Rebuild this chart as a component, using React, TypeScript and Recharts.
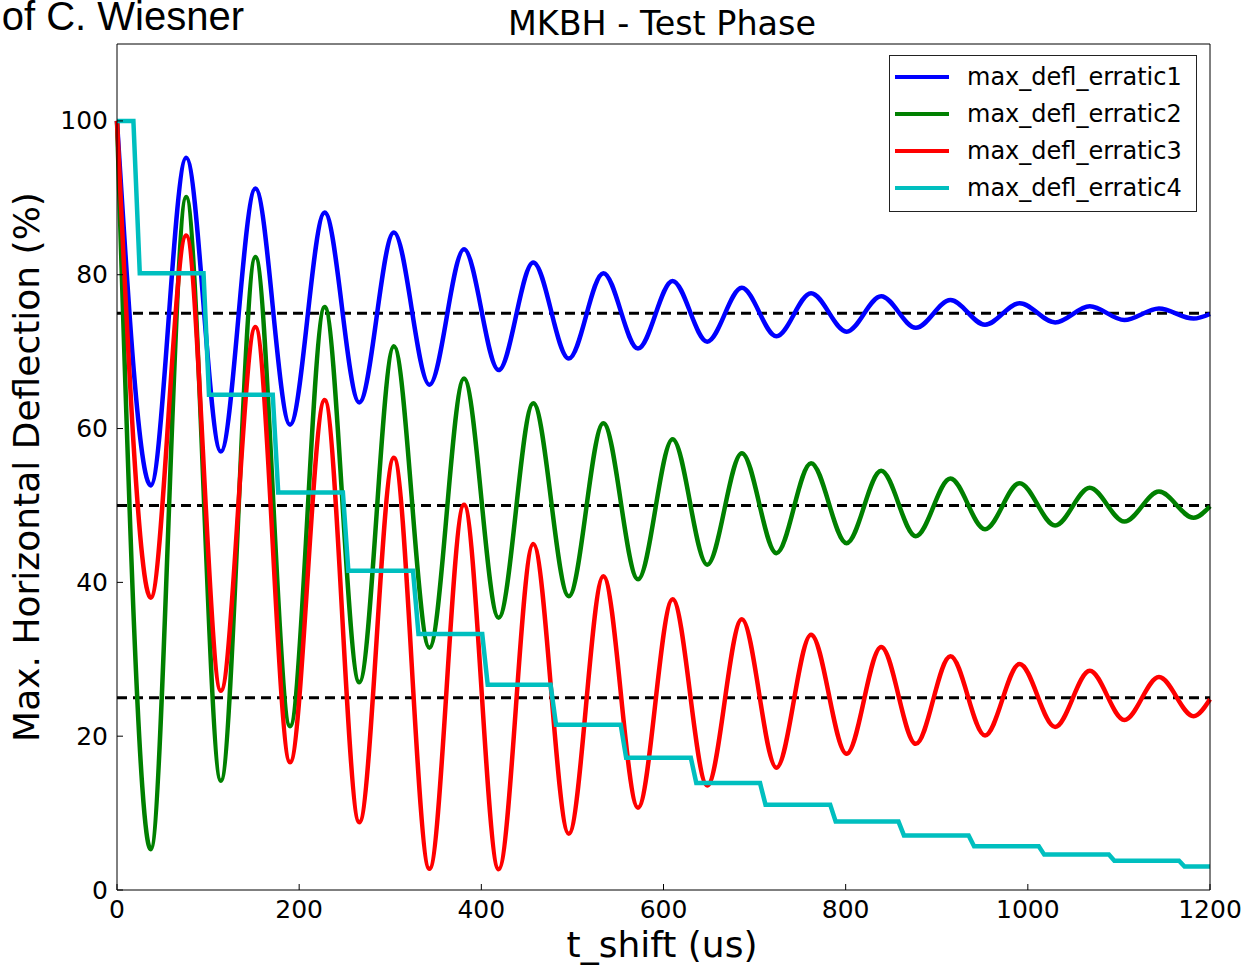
import React from 'react';
import {
  LineChart,
  Line,
  XAxis,
  YAxis,
  ReferenceLine,
} from 'recharts';

// times (us) of the extrema of the three damped curves
const oscTimes = [
  0, 37, 76, 114, 152, 190, 228, 266, 304, 343, 381, 419, 457, 496, 534, 572,
  610, 648, 686, 724, 762, 801, 839, 877, 915, 953, 991, 1030, 1068, 1106, 1144,
  1182, 1200,
];

const erratic1Values = [
  100, 52.6, 95.2, 57.0, 91.2, 60.5, 88.1, 63.4, 85.5, 65.7, 83.3, 67.6, 81.6,
  69.1, 80.2, 70.4, 79.2, 71.3, 78.3, 72.0, 77.6, 72.6, 77.2, 73.1, 76.7, 73.5,
  76.3, 73.8, 75.9, 74.1, 75.6, 74.3, 74.9,
];

const erratic2Values = [
  100, 5.3, 90.1, 14.2, 82.3, 21.3, 75.8, 27.0, 70.7, 31.5, 66.5, 35.4, 63.3,
  38.2, 60.7, 40.4, 58.6, 42.3, 56.8, 43.8, 55.5, 45.1, 54.5, 46.0, 53.5, 46.9,
  52.9, 47.4, 52.3, 47.9, 51.8, 48.4, 49.9,
];

const erratic3Values = [
  100, 38.0, 85.1, 25.9, 73.2, 16.6, 63.7, 8.8, 56.2, 2.75, 50.1, 2.7, 45.0,
  7.3, 40.8, 10.7, 37.8, 13.6, 35.2, 15.9, 33.2, 17.7, 31.6, 19.0, 30.4, 20.1,
  29.4, 21.2, 28.5, 22.1, 27.7, 22.6, 24.8,
];

// staircase of erratic4: corner times and levels
const stepTimes = [
  0, 18, 25, 95, 101, 171, 177, 248, 254, 325, 331, 401, 407, 476, 482, 553,
  559, 630, 636, 706, 712, 783, 789, 858, 864, 935, 941, 1012, 1018, 1089, 1095,
  1166, 1172, 1200,
];
const erratic4Values = [
  100, 100, 80.2, 80.2, 64.4, 64.4, 51.7, 51.7, 41.5, 41.5, 33.3, 33.3, 26.7,
  26.7, 21.5, 21.5, 17.2, 17.2, 13.9, 13.9, 11.1, 11.1, 8.9, 8.9, 7.1, 7.1, 5.7,
  5.7, 4.6, 4.6, 3.8, 3.8, 3.05, 3.05,
];

const refLevels = [75, 50, 25];
const xTicks = [0, 200, 400, 600, 800, 1000, 1200];
const yTicks = [0, 20, 40, 60, 80, 100];

const toRows = (times: number[], values: number[]) =>
  times.map((t, i) => ({ t, v: values[i] }));

const series = [
  { name: 'max_defl_erratic1', color: '#0000ff', data: toRows(oscTimes, erratic1Values), curve: 'monotone' },
  { name: 'max_defl_erratic2', color: '#008000', data: toRows(oscTimes, erratic2Values), curve: 'monotone' },
  { name: 'max_defl_erratic3', color: '#ff0000', data: toRows(oscTimes, erratic3Values), curve: 'monotone' },
  { name: 'max_defl_erratic4', color: '#00bfbf', data: toRows(stepTimes, erratic4Values), curve: 'linear' },
];

const FONT = '"DejaVu Sans", sans-serif';

const BottomTick = (props: any) => {
  const { x, y, payload } = props;
  return (
    <g>
      <line x1={x} x2={x} y1={y} y2={y - 6} stroke="#000" />
      <text x={x} y={y + 28} textAnchor="middle" fontSize={25} fontFamily={FONT} fill="#000">
        {payload.value}
      </text>
    </g>
  );
};

const TopTick = (props: any) => {
  const { x, y } = props;
  return <line x1={x} x2={x} y1={y} y2={y + 6} stroke="#000" />;
};

const LeftTick = (props: any) => {
  const { x, y, payload } = props;
  return (
    <g>
      <line x1={x} x2={x + 6} y1={y} y2={y} stroke="#000" />
      <text x={x - 9} y={y} textAnchor="end" dominantBaseline="central" fontSize={25} fontFamily={FONT} fill="#000">
        {payload.value}
      </text>
    </g>
  );
};

const RightTick = (props: any) => {
  const { x, y } = props;
  return <line x1={x} x2={x - 6} y1={y} y2={y} stroke="#000" />;
};

const LegendBox = () => (
  <div
    style={{
      position: 'absolute',
      left: 889,
      top: 55,
      border: '1px solid #222',
      background: '#fff',
      width: 308,
      height: 157,
      paddingTop: 2,
      boxSizing: 'border-box',
      fontFamily: FONT,
      fontSize: 24,
      color: '#000',
    }}
  >
    {series.map((s) => (
      <div key={s.name} style={{ display: 'flex', alignItems: 'center', height: 37 }}>
        <span style={{ display: 'inline-block', marginLeft: 5, width: 54, height: 4, background: s.color }} />
        <span style={{ marginLeft: 18, whiteSpace: 'nowrap' }}>{s.name}</span>
      </div>
    ))}
  </div>
);

export default function App() {
  return (
    <div style={{ position: 'absolute', left: 0, top: 0, width: 1245, height: 965, background: '#fff', overflow: 'hidden' }}>
      <LineChart width={1245} height={965} margin={{ top: 43, right: 34, bottom: 0, left: 0 }}>
        <XAxis
          xAxisId="b"
          type="number"
          dataKey="t"
          domain={[0, 1200]}
          ticks={xTicks}
          height={75}
          tickSize={0}
          tickMargin={0}
          tick={<BottomTick />}
          axisLine={{ stroke: '#000' }}
          label={{
            content: () => (
              <text x={662} y={957} textAnchor="middle" fontSize={36} fontFamily={FONT} fill="#000">
                t_shift (us)
              </text>
            ),
          }}
        />
        <XAxis
          xAxisId="t"
          orientation="top"
          type="number"
          dataKey="t"
          domain={[0, 1200]}
          ticks={xTicks}
          height={1}
          tickSize={0}
          tickMargin={0}
          tick={<TopTick />}
          axisLine={{ stroke: '#000' }}
        />
        <YAxis
          yAxisId="l"
          type="number"
          domain={[0, 110]}
          ticks={yTicks}
          width={117}
          tickSize={0}
          tickMargin={0}
          tick={<LeftTick />}
          axisLine={{ stroke: '#000' }}
          label={{
            content: () => (
              <text
                x={39}
                y={467}
                transform="rotate(-90 39 467)"
                textAnchor="middle"
                fontSize={36}
                fontFamily={FONT}
                fill="#000"
              >
                Max. Horizontal Deflection (%)
              </text>
            ),
          }}
        />
        <YAxis
          yAxisId="r"
          orientation="right"
          type="number"
          domain={[0, 110]}
          ticks={yTicks}
          width={1}
          tickSize={0}
          tickMargin={0}
          tick={<RightTick />}
          axisLine={{ stroke: '#000' }}
        />
        {refLevels.map((lvl) => (
          <ReferenceLine
            key={lvl}
            xAxisId="b"
            yAxisId="l"
            y={lvl}
            stroke="#000"
            strokeWidth={3}
            strokeDasharray="10 6"
          />
        ))}
        {series.map((s) => (
          <Line
            key={s.name}
            xAxisId="b"
            yAxisId="l"
            data={s.data}
            dataKey="v"
            name={s.name}
            type={s.curve as any}
            stroke={s.color}
            strokeWidth={4.5}
            dot={false}
            activeDot={false}
            isAnimationActive={false}
          />
        ))}
        <text x={662} y={35} textAnchor="middle" fontSize={33.4} fontFamily={FONT} fill="#000">
          MKBH - Test Phase
        </text>
        <text x={244} y={30} textAnchor="end" fontSize={40} fontFamily='"Liberation Sans", Arial, sans-serif' fill="#000">
          of C. Wiesner
        </text>
      </LineChart>
      <LegendBox />
    </div>
  );
}
